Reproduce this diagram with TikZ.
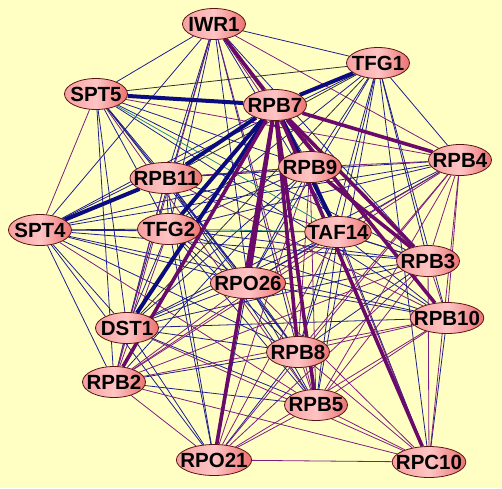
\documentclass[tikz,border=0pt]{standalone}
\usepackage{fontspec}
\setmainfont{Liberation Sans}
\usetikzlibrary{shapes.geometric,backgrounds}
\definecolor{bgyellow}{HTML}{FFFFC4}
\definecolor{pinkl}{HTML}{F6A0A0}
\definecolor{pinkm}{HTML}{FFC4C4}
\definecolor{pinkr}{HTML}{EC7272}
\definecolor{nodeedge}{HTML}{5A1414}
\definecolor{edgenavy}{HTML}{1E1E8E}
\definecolor{edgepurple}{HTML}{7E1E7E}
\definecolor{edgeteal}{HTML}{2A8A8A}
\definecolor{edgeblack}{HTML}{303030}
\definecolor{thicknavy}{HTML}{0C0C7E}
\definecolor{thickpurple}{HTML}{6A0A6A}

\begin{document}
\begin{tikzpicture}[x=1pt,y=-1pt,
    prot/.style={ellipse, draw=nodeedge, line width=0.8pt,
      left color=pinkl, right color=pinkr, middle color=pinkm,
      minimum width=63pt, minimum height=31pt, inner xsep=-7pt, inner ysep=0pt,
      font=\fontsize{20.5}{20.5}\selectfont\bfseries},
    nv/.style={draw=edgenavy, line width=0.8pt},
    pu/.style={draw=edgepurple, line width=0.8pt},
    bk/.style={draw=edgeblack, line width=0.8pt},
    tl/.style={draw=edgeteal, line width=0.8pt},
    thnv/.style={draw=thicknavy, line width=4pt},
    thpu/.style={draw=thickpurple, line width=3.6pt}]
  % proteins
  \node[prot] (iwr1)  at (214,24)  {IWR1};
  \node[prot] (tfg1)  at (378,63)  {TFG1};
  \node[prot] (spt5)  at (96,94)   {SPT5};
  \node[prot] (rpb7)  at (275,105) {RPB7};
  \node[prot] (rpb4)  at (460,160) {RPB4};
  \node[prot] (rpb9)  at (310,167) {RPB9};
  \node[prot] (rpb11) at (166,178) {RPB11};
  \node[prot] (spt4)  at (40,230)  {SPT4};
  \node[prot] (tfg2)  at (169,229) {TFG2};
  \node[prot] (taf14) at (338,232) {TAF14};
  \node[prot] (rpb3)  at (428,261) {RPB3};
  \node[prot] (rpo26) at (248,283) {RPO26};
  \node[prot] (rpb10) at (447,318) {RPB10};
  \node[prot] (dst1)  at (127,328) {DST1};
  \node[prot] (rpb8)  at (298,352) {RPB8};
  \node[prot] (rpb2)  at (114,382) {RPB2};
  \node[prot] (rpb5)  at (316,405) {RPB5};
  \node[prot] (rpo21) at (214,460) {RPO21};
  \node[prot] (rpc10) at (429,462) {RPC10};
  \begin{scope}[on background layer]
    \fill[bgyellow] (0,0) rectangle (502,488);
    % thin interactions
    \foreach \a/\b in {iwr1/spt5, iwr1/tfg1, iwr1/rpb11, iwr1/tfg2, iwr1/taf14, iwr1/rpb3,
        iwr1/rpo26, iwr1/dst1, iwr1/rpb8, iwr1/spt4,
        spt5/rpb11, spt5/tfg2, spt5/rpb9, spt5/rpo26, spt5/dst1, spt5/rpb8, spt5/rpb3,
        spt5/rpb2, spt5/rpb10,
        tfg1/rpb4, tfg1/rpb9, tfg1/taf14, tfg1/rpb3, tfg1/rpb10, tfg1/rpo26, tfg1/tfg2,
        tfg1/rpb8, tfg1/rpb5, tfg1/spt4, tfg1/rpc10,
        rpb7/rpb9, rpb7/spt4,
        rpb4/rpb11, rpb4/tfg2, rpb4/rpo26, rpb4/dst1, rpb4/spt4,
        rpb9/rpb11, rpb9/spt4, rpb9/dst1, rpb9/rpo26, rpb9/rpb2, rpb9/rpb3, rpb9/tfg2,
        rpb11/tfg2, rpb11/rpb3, rpb11/dst1, rpb11/rpb8, rpb11/rpb5, rpb11/rpo21, rpb11/rpo26,
        spt4/taf14, spt4/rpo26, spt4/dst1, spt4/rpb2, spt4/rpb8, spt4/rpb3, spt4/rpo21, spt4/rpb10,
        tfg2/rpb3, tfg2/rpo26, tfg2/dst1, tfg2/rpb8, tfg2/rpb5, tfg2/rpb10, tfg2/rpo21,
        taf14/rpo26, taf14/dst1, taf14/rpb8, taf14/rpb5, taf14/rpb3, taf14/rpb10, taf14/rpc10,
        rpb3/rpo26, rpb3/dst1, rpb3/rpb8,
        rpo26/dst1, rpo26/rpb8, rpo26/rpb5, rpo26/rpb10, rpo26/rpo21,
        rpb10/rpc10, rpb10/dst1,
        dst1/rpb8, dst1/rpb5, dst1/rpo21, dst1/rpb2,
        rpb8/rpb2, rpb8/rpo21, rpb2/rpb5}
      \draw[nv] (\a) -- (\b);
    \foreach \a/\b in {iwr1/rpb4, iwr1/rpb9, iwr1/rpb2, iwr1/rpb5, iwr1/rpb10,
        spt5/spt4, spt5/rpb5, spt5/rpb4,
        rpb4/rpb9, rpb4/taf14, rpb4/rpb3, rpb4/rpb10, rpb4/rpb8, rpb4/rpb5, rpb4/rpo21,
        rpb4/rpb2, rpb4/rpc10,
        rpb9/rpb5, rpb9/rpo21, rpb9/rpc10, rpb9/rpb8, rpb9/rpb11,
        rpb11/rpb2, rpb11/rpb10, spt4/rpb5, tfg2/rpb2, taf14/rpb2, taf14/rpo21,
        rpb3/rpb10, rpb3/rpb5, rpb3/rpb2, rpb3/rpo21, rpb3/rpc10,
        rpo26/rpb2, rpo26/rpc10,
        rpb10/rpb8, rpb10/rpb5, rpb10/rpb2, rpb10/rpo21,
        dst1/rpc10, rpb8/rpb5, rpb8/rpc10, rpb2/rpo21, rpb2/rpc10,
        rpb5/rpc10, rpb5/rpo21, rpo21/rpc10}
      \draw[pu] (\a) -- (\b);
    \foreach \a/\b in {spt5/tfg1, tfg1/rpb11, tfg1/dst1, spt4/tfg2}
      \draw[bk] (\a) -- (\b);
    \foreach \a/\b in {spt5/taf14, tfg2/taf14}
      \draw[tl] (\a) -- (\b);
    % strong interactions
    \foreach \a/\b in {rpb7/spt5, rpb7/tfg1, rpb7/rpb11, rpb11/spt4, rpb7/tfg2, rpb7/dst1, rpb7/taf14}
      \draw[thnv] (\a) -- (\b);
    \foreach \a/\b in {rpb7/iwr1, rpb7/rpb4, rpb7/rpb3, rpb7/rpb10, rpb7/rpb8, rpb7/rpb5,
        rpb7/rpc10, rpb7/rpo21, rpb7/rpo26, rpb7/rpb2, rpb9/rpb3}
      \draw[thpu] (\a) -- (\b);
  \end{scope}
\end{tikzpicture}
\end{document}
